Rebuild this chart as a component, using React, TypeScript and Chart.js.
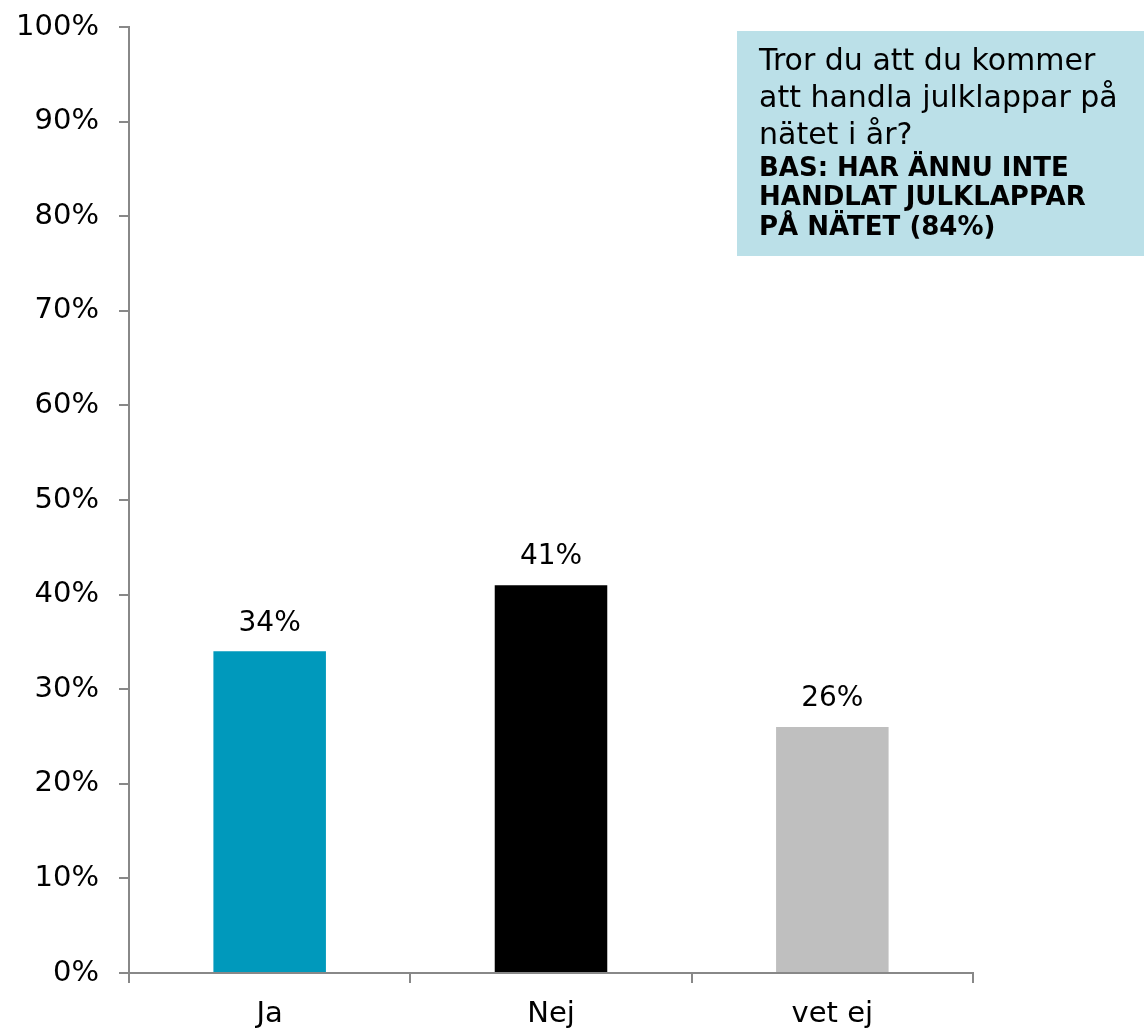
import React, { useEffect, useRef } from "react";
import { Chart, registerables } from "chart.js";

Chart.register(...registerables);

const categories = ["Ja", "Nej", "vet ej"];
const values = [34, 41, 26];
const barColors = ["#0099BC", "#000000", "#BFBFBF"];
const yTicks = [0, 10, 20, 30, 40, 50, 60, 70, 80, 90, 100];
const noteLines = ["Tror du att du kommer", "att handla julklappar på", "nätet i år?"];
const noteBoldLines = ["BAS: HAR ÄNNU INTE", "HANDLAT JULKLAPPAR", "PÅ NÄTET (84%)"];

const FONT = "'DejaVu Sans', Verdana, sans-serif";

const labelPlugin = {
  id: "valueLabels",
  afterDatasetsDraw(chart: any) {
    const ctx = chart.ctx;
    const meta = chart.getDatasetMeta(0);
    ctx.save();
    ctx.font = `28px ${FONT}`;
    ctx.fillStyle = "#000";
    ctx.textAlign = "center";
    ctx.textBaseline = "middle";
    meta.data.forEach((bar: any, i: number) => {
      ctx.fillText(values[i] + "%", bar.x, bar.y - 28);
    });
    ctx.restore();
  },
};

const notePlugin = {
  id: "noteBox",
  afterDraw(chart: any) {
    const ctx = chart.ctx;
    ctx.save();
    ctx.fillStyle = "#BBE0E8";
    ctx.fillRect(737, 31, 407, 225);
    ctx.fillStyle = "#000";
    ctx.textAlign = "left";
    ctx.textBaseline = "middle";
    ctx.font = `30px ${FONT}`;
    noteLines.forEach((t, i) => ctx.fillText(t, 759, 62 + i * 37));
    ctx.font = `bold 26px ${FONT}`;
    noteBoldLines.forEach((t, i) => ctx.fillText(t, 759, 169 + i * 29.5));
    ctx.restore();
  },
};

export default function App() {
  const ref = useRef<HTMLCanvasElement>(null);
  useEffect(() => {
    if (!ref.current) return;
    const chart = new Chart(ref.current, {
      type: "bar",
      data: {
        labels: categories,
        datasets: [
          {
            data: values,
            backgroundColor: barColors,
            categoryPercentage: 1,
            barPercentage: 0.4,
          },
        ],
      },
      options: {
        animation: false,
        responsive: false,
        maintainAspectRatio: false,
        layout: { padding: { left: 0, right: 171, top: 27, bottom: 0 } },
        plugins: { legend: { display: false }, tooltip: { enabled: false } },
        scales: {
          x: {
            grid: {
              display: true,
              drawOnChartArea: false,
              drawTicks: true,
              tickLength: 10,
              color: "#888888",
              lineWidth: 2,
              offset: true,
            },
            border: { color: "#888888", width: 2 },
            ticks: { color: "#000", font: { family: FONT, size: 29 }, padding: 14 },
            afterFit: (s: any) => {
              s.height = 61;
              s.paddingLeft = 0;
              s.paddingRight = 0;
            },
          },
          y: {
            min: 0,
            max: 100,
            afterBuildTicks: (s: any) => {
              s.ticks = yTicks.map((v) => ({ value: v }));
            },
            grid: {
              display: true,
              drawOnChartArea: false,
              drawTicks: true,
              tickLength: 10,
              color: "#888888",
              lineWidth: 2,
            },
            border: { color: "#888888", width: 2 },
            ticks: {
              color: "#000",
              font: { family: FONT, size: 29 },
              padding: 20,
              callback: (v: any) => v + "%",
            },
            afterFit: (s: any) => {
              s.width = 129;
              s.paddingTop = 0;
              s.paddingBottom = 0;
            },
          },
        },
      },
      plugins: [labelPlugin, notePlugin],
    });
    return () => chart.destroy();
  }, []);
  return (
    <div style={{ position: "absolute", left: 0, top: 0, width: 1144, height: 1034, background: "#fff" }}>
      <canvas ref={ref} width={1144} height={1034} style={{ display: "block" }} />
    </div>
  );
}
